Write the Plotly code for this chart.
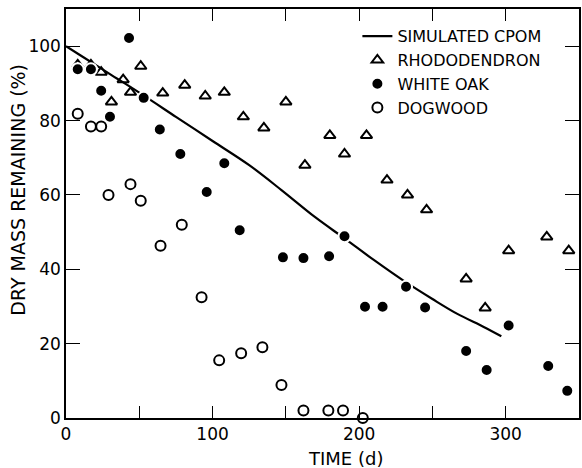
import plotly.graph_objects as go

# Simulated CPOM curve
sim_t = [0, 10, 30, 50, 75, 100, 125, 147, 170, 190, 210, 230, 250, 267, 285, 297]
sim_y = [100, 97.5, 92.5, 87.5, 81, 74.5, 68, 61.3, 54, 48.3, 42.5, 37, 32, 28, 24.5, 22]

# Rhododendron
rho_t = [8, 17, 24, 31, 39, 44, 51, 66, 81, 95, 108, 121, 135, 150, 163, 180, 190, 205, 219, 233, 246, 273, 286, 302, 328, 343]
rho_y = [95, 95, 93, 85, 91, 87.6, 94.6, 87.4, 89.5, 86.6, 87.6, 81, 78, 85, 68, 76, 71, 76, 64, 60, 56, 37.4, 29.6, 45, 48.7, 45]

# White oak
oak_t = [8, 17, 24, 30, 43, 53, 64, 78, 96, 108, 118.5, 148, 162, 179.5, 190, 204, 216, 232, 245, 273, 287, 302, 329, 342]
oak_y = [93.8, 93.8, 88, 81, 102.2, 86.1, 77.6, 71, 60.8, 68.5, 50.5, 43.2, 43, 43.5, 48.9, 29.9, 29.9, 35.3, 29.7, 18, 12.9, 24.9, 14, 7.3]

# Dogwood
dog_t = [8, 17, 24, 29, 44, 51, 64.5, 79, 92.5, 104.5, 119.5, 134, 147, 162, 179, 189, 202.5]
dog_y = [81.8, 78.4, 78.4, 60, 62.9, 58.4, 46.3, 52, 32.5, 15.5, 17.4, 19, 8.9, 2, 2, 2, 0]

x_ticks = [0, 100, 200, 300]
x_minor = [50, 150, 250]
y_ticks = [0, 20, 40, 60, 80, 100]

FONT = "DejaVu Sans"

fig = go.Figure()
fig.add_trace(go.Scatter(x=sim_t, y=sim_y, mode="lines", name="SIMULATED CPOM",
                         line=dict(color="black", width=2.2, shape="spline")))
fig.add_trace(go.Scatter(x=rho_t, y=rho_y, mode="markers", name="RHODODENDRON",
                         marker=dict(symbol="triangle-up-open", size=10, color="black",
                                     line=dict(width=2, color="black"))))
fig.add_trace(go.Scatter(x=oak_t, y=oak_y, mode="markers", name="WHITE OAK",
                         marker=dict(symbol="circle", size=12, color="black",
                                     line=dict(width=2, color="white"))))
fig.add_trace(go.Scatter(x=dog_t, y=dog_y, mode="markers", name="DOGWOOD",
                         marker=dict(symbol="circle-open", size=10, color="black",
                                     line=dict(width=2, color="black")), cliponaxis=False))

fig.update_layout(
    width=582, height=468,
    margin=dict(l=66, r=1, t=9, b=50),
    paper_bgcolor="white", plot_bgcolor="white",
    font=dict(family=FONT, color="black", size=16),
    showlegend=True,
    legend=dict(x=0.568, y=0.975, xanchor="left", yanchor="top",
                bgcolor="rgba(0,0,0,0)", font=dict(size=16, family=FONT),
                itemwidth=30, tracegroupgap=0),
    xaxis=dict(range=[0, 350], tickvals=x_ticks, ticks="inside", ticklen=12,
               tickwidth=1.2, tickcolor="black",
               minor=dict(tickvals=x_minor, ticks="inside", ticklen=12, tickwidth=1.2, tickcolor="black"),
               showline=True, linecolor="black", linewidth=1.5, mirror="ticks",
               showgrid=False, zeroline=False,
               tickfont=dict(size=17)),
    yaxis=dict(range=[0, 110], tickvals=y_ticks, ticks="inside", ticklen=14,
               tickwidth=1.2, tickcolor="black",
               showline=True, linecolor="black", linewidth=1.5, mirror="ticks",
               showgrid=False, zeroline=False,
               tickfont=dict(size=17)),
    annotations=[
        dict(text="TIME (d)", xref="x", yref="paper", x=191, y=-0.100,
             xanchor="center", yanchor="middle", showarrow=False,
             font=dict(size=18, family=FONT)),
        dict(text="DRY MASS REMAINING (%)", xref="paper", yref="paper", x=-0.093, y=0.559,
             xanchor="center", yanchor="middle", showarrow=False, textangle=-90,
             font=dict(size=19, family=FONT)),
    ],
)

fig.write_html("out.html")
